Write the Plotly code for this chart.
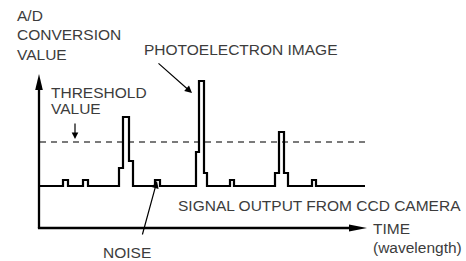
import plotly.graph_objects as go

# ---- data (time units along the TIME axis, A/D value units up the value axis) ----
time = [0, 24, 29, 44, 49, 80, 84, 90, 94, 116, 121, 157, 160, 165, 168,
        191, 195, 236, 240, 245, 249, 273, 277, 326]
signal = [42, 48, 42, 48, 42, 60, 111, 67, 42, 48, 42, 76, 147, 55, 42,
          48, 42, 55, 96, 55, 42, 48, 42, 42]
threshold_value = 86
threshold_span = [1, 326]
axis_time_end = 328
axis_value_end = 154

TXT = "#3c3c3c"
FONT = dict(family="Liberation Sans, Arial, Helvetica, sans-serif", size=15.5, color=TXT)

fig = go.Figure()

# threshold (dashed)
fig.add_trace(go.Scatter(
    x=threshold_span, y=[threshold_value, threshold_value], mode="lines",
    line=dict(color="#7a7a7a", width=1.8, dash="6px,5px"), hoverinfo="skip"))

# signal output (step)
fig.add_trace(go.Scatter(
    x=time, y=signal, mode="lines", line_shape="hv",
    line=dict(color="black", width=2.2), hoverinfo="skip"))

shapes = []
# value axis with arrow
hv = 16
shapes.append(dict(type="line", xref="x", yref="y", x0=0, y0=0, x1=0, y1=axis_value_end - hv + 2,
                   line=dict(color="black", width=2.3)))
shapes.append(dict(type="path", xref="x", yref="y",
                   path=f"M -3.8 {axis_value_end - hv} L 3.8 {axis_value_end - hv} L 0 {axis_value_end} Z",
                   fillcolor="black", line=dict(width=0)))
# time axis with arrow
ht = 18
shapes.append(dict(type="line", xref="x", yref="y", x0=-1.1, y0=0, x1=axis_time_end - ht + 2, y1=0,
                   line=dict(color="black", width=2.3)))
shapes.append(dict(type="path", xref="x", yref="y",
                   path=f"M {axis_time_end - ht} -3.4 L {axis_time_end - ht} 3.4 L {axis_time_end} 0 Z",
                   fillcolor="black", line=dict(width=0)))

def label(text, x, y):
    return dict(text=text, x=x, y=y, xref="x", yref="y", xanchor="left", yanchor="middle",
                showarrow=False, font=FONT)

def arrow(x, y, ax, ay, w=1.2, s=1.2):
    return dict(text="", x=x, y=y, ax=ax, ay=ay, xref="x", yref="y", axref="x", ayref="y",
                showarrow=True, arrowhead=2, arrowwidth=w, arrowsize=s, arrowcolor="black",
                standoff=0, startstandoff=0)

annotations = [
    label("A/D", -24, 213),
    label("CONVERSION", -24, 194),
    label("VALUE", -24, 174),
    label("THRESHOLD", 10, 136),
    label("VALUE", 10, 120),
    label("PHOTOELECTRON IMAGE", 103, 179),
    label("SIGNAL OUTPUT FROM CCD CAMERA", 137, 23),
    label("NOISE", 62, -24.5),
    label("TIME", 332, -0.5),
    label("(wavelength)", 332, -19),
    arrow(36, 89, 36, 106, w=1.2, s=1.1),
    arrow(153, 135, 118, 166),
    arrow(118, 47, 103, -8),
]

fig.update_layout(
    width=466, height=261,
    margin=dict(l=0, r=0, t=0, b=0),
    paper_bgcolor="white", plot_bgcolor="white",
    showlegend=False,
    xaxis=dict(range=[-39, 427], visible=False, fixedrange=True),
    yaxis=dict(range=[-33, 228], visible=False, fixedrange=True),
    shapes=shapes,
    annotations=annotations,
)

fig.write_html(
    "out.html",
    config={"displayModeBar": False, "staticPlot": True},
    post_script="document.body.style.margin='0';document.body.style.overflow='hidden';",
)
